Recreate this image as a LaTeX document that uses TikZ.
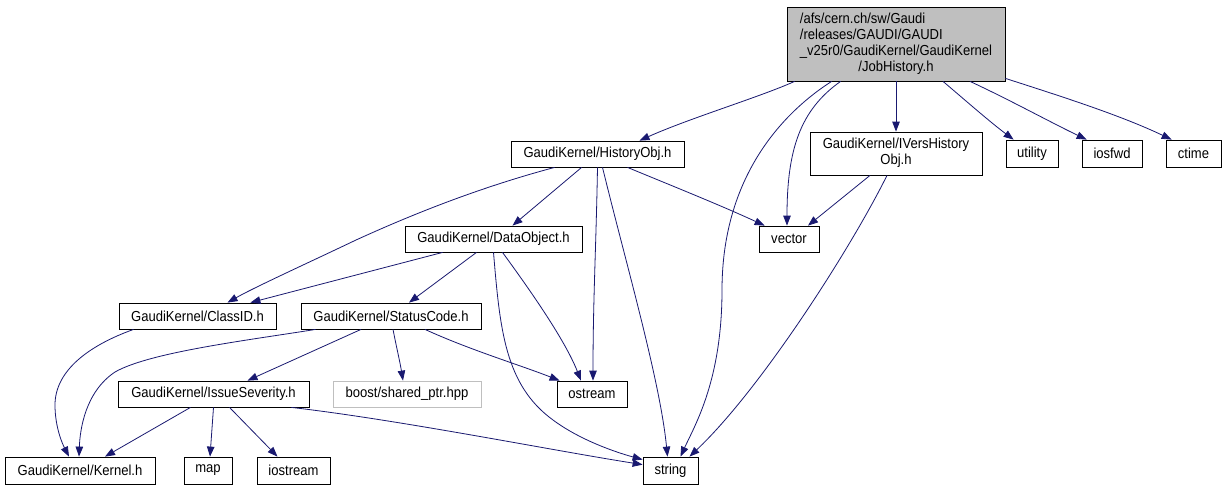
\documentclass[tikz,border=0pt]{standalone}
\usepackage{fontspec}
\setmainfont{Liberation Sans}
\newfontfamily\dfont[FakeStretch=0.9]{Liberation Sans}
\usetikzlibrary{arrows.meta}
\definecolor{edgec}{HTML}{191970}
\definecolor{grayfill}{HTML}{BFBFBF}
\tikzset{
  box/.style={draw=black, line width=0.8pt, fill=white, inner sep=0pt, font=\dfont\fontsize{14.5}{16}\selectfont, text=black},
  extbox/.style={box, draw=grayfill},
  edge/.style={draw=edgec, line width=0.8pt, -{Triangle[length=10pt,width=7.5pt]}},
}
\begin{document}
\begin{tikzpicture}[x=1pt,y=-1pt]
\useasboundingbox (0,0) rectangle (1225,491);
\fill[white] (0,0) rectangle (1225,491);
% nodes
\node[box, fill=grayfill, minimum width=218, minimum height=74] (job) at (896,44)
  {\begin{tabular}{@{}l@{}}/afs/cern.ch/sw/Gaudi\\/releases/GAUDI/GAUDI\\\_v25r0/GaudiKernel/GaudiKernel\\\multicolumn{1}{@{}c@{}}{/JobHistory.h}\end{tabular}};
\node[box, minimum width=173, minimum height=26] (hist) at (597.5,154) {GaudiKernel/HistoryObj.h};
\node[box, minimum width=172, minimum height=43] (ivers) at (896,153.5)
  {\begin{tabular}{@{}l@{}}GaudiKernel/IVersHistory\\\multicolumn{1}{@{}c@{}}{Obj.h}\end{tabular}};
\node[box, minimum width=52, minimum height=27] (util) at (1032,153.5) {utility};
\node[box, minimum width=60, minimum height=27] (iosfwd) at (1112,153.5) {iosfwd};
\node[box, minimum width=55, minimum height=27] (ctime) at (1193.5,153.5) {ctime};
\node[box, minimum width=60, minimum height=26] (vector) at (789,239) {vector};
\node[box, minimum width=177, minimum height=26] (data) at (493.5,239) {GaudiKernel/DataObject.h};
\node[box, minimum width=157, minimum height=26] (classid) at (197.5,316) {GaudiKernel/ClassID.h};
\node[box, minimum width=180, minimum height=26] (status) at (391,316) {GaudiKernel/StatusCode.h};
\node[box, minimum width=191, minimum height=26] (issue) at (213.5,394) {GaudiKernel/IssueSeverity.h};
\node[extbox, minimum width=148, minimum height=26] (boost) at (407,394) {boost/shared\_ptr.hpp};
\node[box, minimum width=70, minimum height=26] (ostream) at (592,394) {ostream};
\node[box, minimum width=150, minimum height=27] (kernel) at (80,470.5) {GaudiKernel/Kernel.h};
\node[box, minimum width=48, minimum height=27] (map) at (208,470.5) {map};
\node[box, minimum width=73, minimum height=27] (iostream) at (293.5,470.5) {iostream};
\node[box, minimum width=55, minimum height=27] (string) at (670.5,470.5) {string};
% edges from JobHistory
\draw[edge] ([xshift=8]job.south west) .. controls (760,97) and (690,118) .. ([xshift=42]hist.north);
\draw[edge] ([xshift=45]job.south west) .. controls (790,108) and (722,170) .. (722,290) .. controls (722,380) and (695,425) .. ([xshift=10]string.north);
\draw[edge] ([xshift=54]job.south west) .. controls (800,110) and (787,150) .. ([xshift=-2]vector.north);
\draw[edge] (job.south) -- (ivers.north);
\draw[edge] ([xshift=47]job.south) .. controls (965,100) and (990,122) .. ([xshift=8]util.north west);
\draw[edge] ([xshift=74]job.south) .. controls (1010,100) and (1050,122) .. ([xshift=5]iosfwd.north west);
\draw[edge] ([yshift=3]job.south east) .. controls (1060,96) and (1120,115) .. ([xshift=6]ctime.north west);
% edges from HistoryObj
\draw[edge] ([xshift=44]hist.south west) .. controls (470,190) and (400,220) .. (356,240) .. controls (310,262) and (255,287) .. ([xshift=30]classid.north);
\draw[edge] ([xshift=71]hist.south west) -- ([xshift=19]data.north);
\draw[edge] (hist.south) .. controls (596,250) and (593,300) .. ([xshift=1]ostream.north);
\draw[edge] ([xshift=5]hist.south) .. controls (625,260) and (660,380) .. ([xshift=-3]string.north);
\draw[edge] ([xshift=30]hist.south) .. controls (670,185) and (720,205) .. ([xshift=6]vector.north west);
% edges from IVersHistoryObj
\draw[edge] ([xshift=-26]ivers.south) -- ([xshift=19]vector.north);
\draw[edge] ([xshift=-9]ivers.south) .. controls (850,250) and (760,390) .. ([xshift=19]string.north);
% edges from DataObject
\draw[edge] ([xshift=38]data.south west) -- ([xshift=-26]classid.north east);
\draw[edge] ([xshift=-17]data.south) -- ([xshift=18]status.north);
\draw[edge] ([xshift=9]data.south) .. controls (530,290) and (565,340) .. ([xshift=-11]ostream.north);
\draw[edge] (data.south) .. controls (500,330) and (505,385) .. (553,420) .. controls (580,440) and (615,452) .. ([yshift=-3]string.north west);
% edges from ClassID
\draw[edge] ([xshift=15]classid.south west) .. controls (90,345) and (55,370) .. (55,405) .. controls (55,428) and (63,445) .. ([xshift=-11]kernel.north);
% edges from StatusCode
\draw[edge] ([xshift=15]status.south west) .. controls (250,340) and (150,352) .. (115,372) .. controls (85,392) and (80,430) .. ([xshift=-1]kernel.north);
\draw[edge] ([xshift=-30]status.south) -- ([xshift=34]issue.north);
\draw[edge] ([xshift=2]status.south) .. controls (396,345) and (400,362) .. ([xshift=-4]boost.north);
\draw[edge] ([xshift=34]status.south) .. controls (470,350) and (520,365) .. ([xshift=3]ostream.north west);
% edges from IssueSeverity
\draw[edge] ([xshift=-23]issue.south) -- ([xshift=25]kernel.north);
\draw[edge] (issue.south) -- ([xshift=2]map.north);
\draw[edge] ([xshift=16]issue.south) -- ([xshift=-16]iostream.north);
\draw[edge] ([xshift=-18]issue.south east) .. controls (400,420) and (550,450) .. ([yshift=-8]string.north west);
\end{tikzpicture}
\end{document}
